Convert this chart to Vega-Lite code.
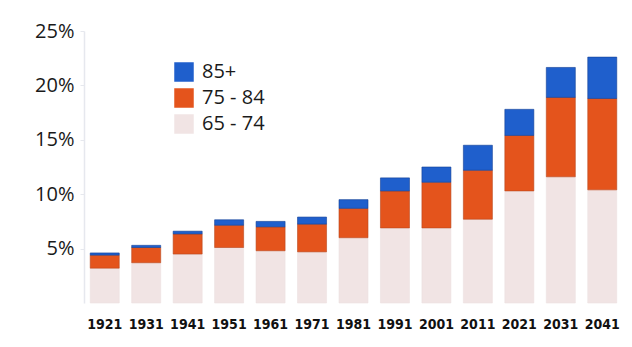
{
  "$schema": "https://vega.github.io/schema/vega-lite/v6.json",
  "width": 539,
  "height": 272,
  "autosize": {"type": "none"},
  "padding": {"left": 84, "top": 31, "right": 9, "bottom": 44},
  "background": "white",
  "data": {
    "values": [
      {"year": "1921", "group": "65 - 74", "ord": 1, "pct": 3.2},
      {"year": "1921", "group": "75 - 84", "ord": 2, "pct": 1.2},
      {"year": "1921", "group": "85+", "ord": 3, "pct": 0.2},
      {"year": "1931", "group": "65 - 74", "ord": 1, "pct": 3.7},
      {"year": "1931", "group": "75 - 84", "ord": 2, "pct": 1.4},
      {"year": "1931", "group": "85+", "ord": 3, "pct": 0.2},
      {"year": "1941", "group": "65 - 74", "ord": 1, "pct": 4.5},
      {"year": "1941", "group": "75 - 84", "ord": 2, "pct": 1.85},
      {"year": "1941", "group": "85+", "ord": 3, "pct": 0.25},
      {"year": "1951", "group": "65 - 74", "ord": 1, "pct": 5.1},
      {"year": "1951", "group": "75 - 84", "ord": 2, "pct": 2.05},
      {"year": "1951", "group": "85+", "ord": 3, "pct": 0.5},
      {"year": "1961", "group": "65 - 74", "ord": 1, "pct": 4.8},
      {"year": "1961", "group": "75 - 84", "ord": 2, "pct": 2.2},
      {"year": "1961", "group": "85+", "ord": 3, "pct": 0.5},
      {"year": "1971", "group": "65 - 74", "ord": 1, "pct": 4.7},
      {"year": "1971", "group": "75 - 84", "ord": 2, "pct": 2.55},
      {"year": "1971", "group": "85+", "ord": 3, "pct": 0.65},
      {"year": "1981", "group": "65 - 74", "ord": 1, "pct": 6.0},
      {"year": "1981", "group": "75 - 84", "ord": 2, "pct": 2.7},
      {"year": "1981", "group": "85+", "ord": 3, "pct": 0.8},
      {"year": "1991", "group": "65 - 74", "ord": 1, "pct": 6.9},
      {"year": "1991", "group": "75 - 84", "ord": 2, "pct": 3.4},
      {"year": "1991", "group": "85+", "ord": 3, "pct": 1.2},
      {"year": "2001", "group": "65 - 74", "ord": 1, "pct": 6.9},
      {"year": "2001", "group": "75 - 84", "ord": 2, "pct": 4.2},
      {"year": "2001", "group": "85+", "ord": 3, "pct": 1.4},
      {"year": "2011", "group": "65 - 74", "ord": 1, "pct": 7.7},
      {"year": "2011", "group": "75 - 84", "ord": 2, "pct": 4.5},
      {"year": "2011", "group": "85+", "ord": 3, "pct": 2.3},
      {"year": "2021", "group": "65 - 74", "ord": 1, "pct": 10.3},
      {"year": "2021", "group": "75 - 84", "ord": 2, "pct": 5.1},
      {"year": "2021", "group": "85+", "ord": 3, "pct": 2.4},
      {"year": "2031", "group": "65 - 74", "ord": 1, "pct": 11.6},
      {"year": "2031", "group": "75 - 84", "ord": 2, "pct": 7.3},
      {"year": "2031", "group": "85+", "ord": 3, "pct": 2.75},
      {"year": "2041", "group": "65 - 74", "ord": 1, "pct": 10.4},
      {"year": "2041", "group": "75 - 84", "ord": 2, "pct": 8.4},
      {"year": "2041", "group": "85+", "ord": 3, "pct": 3.8}
    ]
  },
  "config": {
    "view": {"stroke": null},
    "font": "Open Sans"
  },
  "mark": {"type": "bar", "strokeWidth": 0.6},
  "encoding": {
    "x": {
      "field": "year",
      "type": "ordinal",
      "scale": {"paddingInner": 0.3, "paddingOuter": 0.15},
      "axis": {
        "title": null,
        "labelAngle": 0,
        "ticks": false,
        "domain": false,
        "labelPadding": 14,
        "labelFont": "DejaVu Sans Condensed",
        "labelFontWeight": "bold",
        "labelFontSize": 14,
        "labelColor": "#111111"
      }
    },
    "y": {
      "field": "pct",
      "type": "quantitative",
      "stack": "zero",
      "scale": {"domain": [0, 25], "nice": false},
      "axis": {
        "title": null,
        "values": [5, 10, 15, 20, 25],
        "labelExpr": "datum.value + '%'",
        "grid": false,
        "domainColor": "#e6e8ee",
        "domainWidth": 1.5,
        "tickColor": "#e6e8ee",
        "tickSize": 4,
        "labelPadding": 6,
        "labelFontSize": 20,
        "labelColor": "#1a1a1a",
        "labelFont": "Open Sans"
      }
    },
    "color": {
      "field": "group",
      "type": "nominal",
      "scale": {
        "domain": ["85+", "75 - 84", "65 - 74"],
        "range": ["#1f5fcc", "#e4541c", "#f1e4e4"]
      },
      "legend": {
        "title": null,
        "orient": "none",
        "legendX": 90,
        "legendY": 31,
        "symbolType": "square",
        "symbolSize": 380,
        "symbolStrokeWidth": 0,
        "labelFontSize": 20,
        "labelColor": "#1a1a1a",
        "labelFont": "Open Sans",
        "rowPadding": 6,
        "labelOffset": 8
      }
    },
    "stroke": {
      "field": "group",
      "type": "nominal",
      "scale": {
        "domain": ["85+", "75 - 84", "65 - 74"],
        "range": ["#123f96", "#b8461c", "#ece0e0"]
      },
      "legend": null
    },
    "order": {"field": "ord", "type": "quantitative"}
  }
}
